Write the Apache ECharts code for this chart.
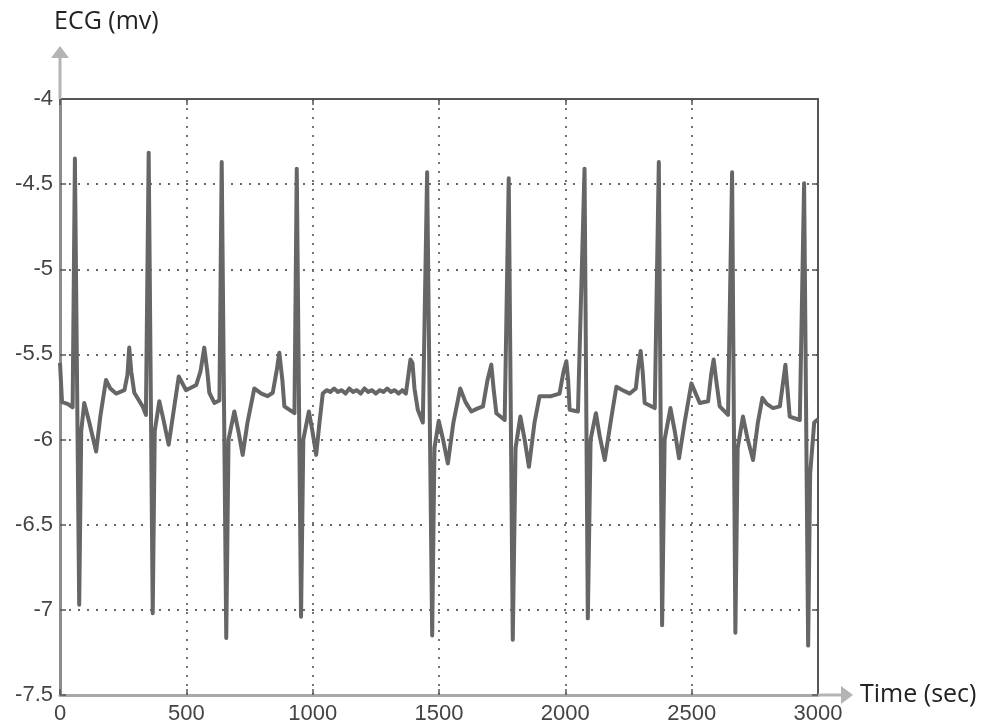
<!DOCTYPE html>
<html>
<head>
<meta charset="utf-8">
<script src="https://cdn.jsdelivr.net/npm/echarts@6/dist/echarts.min.js"></script>
<style>
html,body{margin:0;padding:0;background:#fff;}
#chart{width:997px;height:726px;}
</style>
</head>
<body>
<div id="chart"></div>
<script>
// ---- data (time in sec, ECG in mv) ----
var timeSec = [
  0, 8, 30, 50, 59, 76, 84, 96, 116, 143, 160, 182, 199, 222, 255, 267, 274, 282, 294, 327, 340,
  351, 367, 375, 393, 409, 430, 449, 470, 499, 539, 556, 571, 583, 591, 611, 631,
  640, 658, 667, 690, 706, 723, 742, 769, 797, 822, 842, 857, 868, 880, 888, 928,
  937, 954, 963, 985, 999, 1014, 1027, 1040, 1055, 1070, 1085, 1100, 1115, 1130, 1145, 1160, 1175,
  1190, 1205, 1220, 1235, 1250, 1265, 1280, 1295, 1310, 1325, 1340, 1355, 1369, 1379, 1387, 1395, 1403, 1416, 1436,
  1453, 1473, 1482, 1499, 1516, 1535, 1557, 1584, 1605, 1628, 1649, 1674, 1692, 1707, 1716, 1727, 1760,
  1776, 1792, 1803, 1822, 1839, 1856, 1878, 1898, 1944, 1977, 1993, 2004, 2011, 2017, 2050,
  2076, 2089, 2100, 2121, 2136, 2156, 2179, 2202, 2227, 2255, 2279, 2288, 2298, 2306, 2314, 2354,
  2370, 2383, 2393, 2416, 2433, 2450, 2472, 2499, 2532, 2565, 2577, 2587, 2597, 2611, 2644,
  2660, 2673, 2682, 2703, 2722, 2743, 2762, 2780, 2797, 2822, 2849, 2863, 2871, 2879, 2888, 2928,
  2945, 2961, 2969, 2985, 3000
];
var ecgMv = [
  -5.55, -5.78, -5.79, -5.81, -4.35, -6.97, -5.95, -5.785, -5.9, -6.07, -5.86, -5.65, -5.70, -5.73, -5.71, -5.62, -5.46, -5.6, -5.725, -5.805, -5.855,
  -4.315, -7.02, -5.95, -5.775, -5.88, -6.03, -5.84, -5.63, -5.71, -5.68, -5.6, -5.46, -5.6, -5.725, -5.785, -5.77,
  -4.37, -7.165, -6.0, -5.835, -5.95, -6.09, -5.9, -5.70, -5.73, -5.745, -5.725, -5.6, -5.49, -5.65, -5.805, -5.845,
  -4.41, -7.04, -6.0, -5.835, -5.95, -6.09, -5.9, -5.73, -5.71, -5.72, -5.70, -5.72, -5.71, -5.73, -5.70, -5.72, -5.71,
  -5.73, -5.70, -5.72, -5.71, -5.73, -5.71, -5.72, -5.70, -5.72, -5.71, -5.73, -5.71, -5.73, -5.62, -5.53, -5.55, -5.7, -5.825, -5.9,
  -4.43, -7.15, -6.05, -5.89, -6.0, -6.14, -5.9, -5.70, -5.78, -5.835, -5.82, -5.805, -5.65, -5.56, -5.7, -5.845, -5.885,
  -4.465, -7.175, -6.05, -5.865, -6.0, -6.16, -5.9, -5.745, -5.745, -5.73, -5.6, -5.54, -5.65, -5.825, -5.835,
  -4.41, -7.05, -6.0, -5.845, -5.98, -6.12, -5.9, -5.69, -5.71, -5.73, -5.7, -5.58, -5.48, -5.6, -5.785, -5.815,
  -4.37, -7.09, -6.0, -5.815, -5.95, -6.11, -5.9, -5.67, -5.785, -5.775, -5.62, -5.53, -5.65, -5.805, -5.855,
  -4.43, -7.135, -6.05, -5.865, -6.0, -6.12, -5.9, -5.755, -5.79, -5.815, -5.805, -5.65, -5.56, -5.7, -5.865, -5.885,
  -4.495, -7.21, -6.2, -5.9, -5.88
];
var xTicks = [0, 500, 1000, 1500, 2000, 2500, 3000];
var yTicks = [-7.5, -7, -6.5, -6, -5.5, -5, -4.5, -4];
var xName = 'Time (sec)';
var yName = 'ECG (mv)';

// ---- layout ----
var G = {left: 60, right: 179, top: 99, bottom: 31};
var W = 997, H = 726;
var axL = G.left, axB = H - G.bottom, axR = W - G.right;
var arrowGray = '#b4b4b4';
var borderColor = '#555';
var gridColor = '#666';

var seriesData = timeSec.map(function (t, i) { return [t, ecgMv[i]]; });

var chart = echarts.init(document.getElementById('chart'), null, {renderer: 'canvas'});
var plainFmt = function (v) { return String(v); };
var labelFont = {fontFamily: 'Liberation Sans', fontSize: 22, color: '#444', formatter: plainFmt};
var nameFont = {fontFamily: 'Open Sans', fontSize: 25, color: '#222'};

chart.setOption({
  animation: false,
  backgroundColor: '#fff',
  grid: {left: G.left, right: G.right, top: G.top, bottom: G.bottom, containLabel: false},
  xAxis: [{
    type: 'value', min: xTicks[0], max: xTicks[xTicks.length - 1], interval: xTicks[1] - xTicks[0],
    position: 'bottom',
    name: xName, nameLocation: 'end', nameGap: 42,
    nameTextStyle: Object.assign({align: 'left', verticalAlign: 'middle'}, nameFont),
    axisLine: {show: true, onZero: false, lineStyle: {color: '#a8a8a8', width: 3}},
    axisTick: {show: true, inside: true, length: 6, lineStyle: {color: borderColor, width: 1.5}},
    axisLabel: Object.assign({margin: 8}, labelFont),
    splitLine: {show: true, lineStyle: {color: gridColor, width: 1.8, type: [2, 7]}}
  }, {
    type: 'value', min: xTicks[0], max: xTicks[xTicks.length - 1], interval: xTicks[1] - xTicks[0],
    position: 'top',
    axisLine: {show: true, onZero: false, lineStyle: {color: borderColor, width: 2}},
    axisTick: {show: true, inside: true, length: 6, lineStyle: {color: borderColor, width: 1.5}},
    axisLabel: {show: false},
    splitLine: {show: false}
  }],
  yAxis: [{
    type: 'value', min: yTicks[0], max: yTicks[yTicks.length - 1], interval: yTicks[1] - yTicks[0],
    position: 'left',
    name: yName, nameLocation: 'end', nameGap: 77,
    nameTextStyle: Object.assign({align: 'left', verticalAlign: 'middle', padding: [0, 0, 0, -6]}, nameFont),
    axisLine: {show: true, onZero: false, lineStyle: {color: '#8c8c8c', width: 3}},
    axisTick: {show: true, inside: true, length: 6, lineStyle: {color: borderColor, width: 1.5}},
    axisLabel: Object.assign({margin: 7}, labelFont),
    splitLine: {show: true, lineStyle: {color: gridColor, width: 1.8, type: [2, 7]}}
  }, {
    type: 'value', min: yTicks[0], max: yTicks[yTicks.length - 1], interval: yTicks[1] - yTicks[0],
    position: 'right',
    axisLine: {show: true, onZero: false, lineStyle: {color: borderColor, width: 2}},
    axisTick: {show: true, inside: true, length: 6, lineStyle: {color: borderColor, width: 1.5}},
    axisLabel: {show: false},
    splitLine: {show: false}
  }],
  series: [{
    type: 'line',
    xAxisIndex: 0, yAxisIndex: 0,
    data: seriesData,
    showSymbol: false,
    smooth: false,
    lineStyle: {color: '#666', width: 4, join: 'round'},
    z: 3
  }],
  graphic: [
    // y-axis arrow extension
    {type: 'line', shape: {x1: axL, y1: G.top, x2: axL, y2: 57}, style: {stroke: arrowGray, lineWidth: 3}, z: 10},
    {type: 'polygon', shape: {points: [[axL, 46], [axL - 9, 58], [axL + 9, 58]]}, style: {fill: arrowGray}, z: 10},
    // x-axis arrow extension
    {type: 'line', shape: {x1: axR, y1: axB, x2: 842, y2: axB}, style: {stroke: arrowGray, lineWidth: 3}, z: 10},
    {type: 'polygon', shape: {points: [[853, axB], [841, axB - 9], [841, axB + 9]]}, style: {fill: arrowGray}, z: 10}
  ]
});
</script>
</body>
</html>
